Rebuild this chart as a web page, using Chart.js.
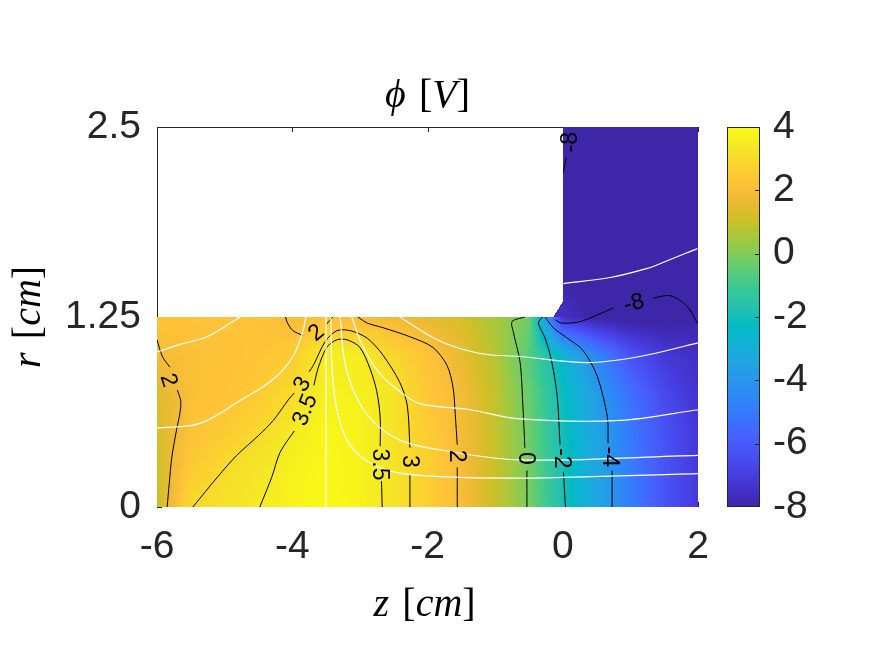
<!DOCTYPE html>
<html>
<head>
<meta charset="utf-8">
<script src="https://cdn.jsdelivr.net/npm/chart.js@4.4.1/dist/chart.umd.min.js"></script>
<style>
  html, body { margin: 0; padding: 0; background: #fff; }
  canvas { display: block; }
</style>
</head>
<body>
<canvas id="phiChart" width="875" height="656"></canvas>
<script>
// grid of phi [V], z columns and r rows in cm
const zCols = [-6, -5.5, -5, -4.5, -4, -3.5, -3, -2.5, -2, -1.5, -1, -0.5, 0, 0.5, 1, 1.5, 2];
const rLower = [0, 0.25, 0.5, 0.75, 1.0, 1.25];
const phiR000 = [1.0, 2.95, 3.2, 3.48, 3.75, 3.95, 3.75, 3.25, 2.65, 1.95, 1.0, -0.1, -1.9, -3.4, -4.9, -6.2, -7.2];
const phiR025 = [1.1, 2.5, 3.0, 3.3, 3.7, 3.9, 3.7, 3.25, 2.65, 1.95, 1.0, -0.15, -1.9, -3.4, -4.9, -6.2, -7.2];
const phiR050 = [1.2, 2.2, 2.5, 2.95, 3.45, 3.85, 3.7, 3.25, 2.6, 1.9, 0.95, -0.25, -2.0, -3.5, -5.0, -6.3, -7.2];
const phiR075 = [1.4, 2.1, 2.25, 2.5, 3.0, 3.7, 3.65, 3.3, 2.4, 1.85, 0.9, -0.35, -2.15, -3.8, -5.3, -6.6, -7.4];
const phiR100 = [1.85, 2.1, 2.2, 2.3, 2.55, 3.6, 3.55, 2.85, 2.3, 1.6, 0.7, -0.6, -2.6, -4.6, -6.3, -7.2, -7.6];
const phiR125 = [2.3, 2.3, 2.3, 2.25, 1.95, 2.1, 1.95, 1.75, 1.55, 1.25, 0.5, -0.2, -7.5, -8.1, -8.3, -8.2, -8.0];

// the region above r = 1.25 only exists for z >= 0
const zUpper = [0, 0.5, 1, 1.5, 2];
const rUpper = [1.25, 1.5, 1.75, 2.0, 2.25, 2.5];
const phiR150 = [-8.0, -8.3, -8.4, -8.4, -8.3];
const phiR175 = [-8.0, -8.4, -8.5, -8.5, -8.4];
const phiR200 = [-8.0, -8.4, -8.5, -8.5, -8.5];
const phiR225 = [-7.95, -8.4, -8.5, -8.5, -8.5];
const phiR250 = [-7.9, -8.4, -8.5, -8.5, -8.5];

const xTicks = [-6, -4, -2, 0, 2];
const yTicks = [0, 1.25, 2.5];
const cbTicks = [-8, -6, -4, -2, 0, 2, 4];

// black contour lines [z, r], NaN = gap for the label
const contour2Left = [[-6.0, 1.10], [-5.92, 0.99], [-5.81, 0.92], [NaN, NaN], [-5.70, 0.77], [-5.65, 0.70], [-5.66, 0.62], [-5.71, 0.51], [-5.78, 0.33], [-5.82, 0.15], [-5.85, 0]];
const contour3 = [[-5.47, 0], [-5.1, 0.2], [-4.82, 0.34], [-4.5, 0.47], [-4.28, 0.57], [-4.05, 0.71], [-3.97, 0.75], [NaN, NaN], [-3.75, 0.89], [-3.69, 0.93], [-3.51, 1.09], [-3.34, 1.16], [-3.14, 1.16], [-2.89, 1.11], [-2.66, 1.0], [-2.41, 0.82], [-2.30, 0.67], [-2.26, 0.39], [NaN, NaN], [-2.26, 0.21], [-2.26, 0]];
const contour35 = [[-4.48, 0], [-4.3, 0.2], [-4.18, 0.36], [-3.97, 0.50], [NaN, NaN], [-3.68, 0.80], [-3.62, 0.91], [-3.49, 1.05], [-3.34, 1.10], [-3.19, 1.10], [-3.0, 1.05], [-2.85, 0.91], [-2.75, 0.76], [-2.70, 0.59], [-2.70, 0.40], [NaN, NaN], [-2.68, 0.17], [-2.67, 0]];
const contour2Top = [[-4.1, 1.25], [-4.07, 1.21], [-3.99, 1.16], [-3.85, 1.13], [NaN, NaN], [-3.5, 1.2], [-3.4, 1.25]];
const contour2Right = [[-3.03, 1.25], [-2.89, 1.21], [-2.66, 1.18], [-2.26, 1.12], [-1.92, 1.05], [-1.71, 0.93], [-1.62, 0.78], [-1.59, 0.61], [-1.56, 0.41], [NaN, NaN], [-1.56, 0.26], [-1.56, 0]];
const contour0 = [[-0.56, 1.25], [-0.75, 1.22], [-0.73, 1.15], [-0.63, 0.95], [-0.59, 0.67], [-0.56, 0.39], [NaN, NaN], [-0.53, 0.24], [-0.53, 0]];
const contourM2 = [[-0.30, 1.25], [-0.36, 1.21], [-0.26, 1.11], [-0.16, 0.95], [-0.08, 0.72], [-0.04, 0.41], [NaN, NaN], [0.01, 0.23], [0.04, 0]];
const contourM4 = [[-0.26, 1.25], [-0.14, 1.18], [0.04, 1.12], [0.30, 1.03], [0.51, 0.86], [0.66, 0.59], [0.67, 0.42], [NaN, NaN], [0.73, 0.24], [0.73, 0]];
const contourM8Low = [[-0.11, 1.23], [-0.01, 1.21], [0.26, 1.22], [0.75, 1.31], [NaN, NaN], [1.34, 1.375], [1.59, 1.39], [1.84, 1.32], [1.99, 1.21]];
const contourM8High = [[0.08, 2.5], [NaN, NaN], [0.05, 2.30], [0.01, 2.20]];

// white lines [z, r]
const white1 = [[-6.0, 1.02], [-5.66, 1.07], [-5.26, 1.12], [-4.77, 1.25]];
const white2 = [[-6.0, 0.52], [-5.36, 0.55], [-4.77, 0.70], [-4.28, 0.84], [-3.99, 0.99], [-3.84, 1.16], [-3.80, 1.25]];
const white3 = [[-3.5, 0], [-3.5, 1.25]];
const white4 = [[-2.41, 1.25], [-1.81, 1.09], [-1.22, 1.01], [-0.63, 0.99], [0.36, 0.95], [1.14, 0.99], [2.0, 1.08]];
const white5 = [[-3.12, 1.25], [-2.97, 1.07], [-2.73, 0.89], [-2.41, 0.76], [-2.11, 0.68], [-1.37, 0.64], [-0.63, 0.58], [0.85, 0.57], [2.0, 0.64]];
const white6 = [[-3.29, 1.25], [-3.23, 0.97], [-3.07, 0.74], [-2.82, 0.57], [-2.41, 0.44], [-1.81, 0.375], [-0.63, 0.31], [2.0, 0.34]];
const white7 = [[-3.43, 1.25], [-3.41, 0.90], [-3.34, 0.64], [-3.19, 0.44], [-2.92, 0.31], [-2.48, 0.23], [-1.81, 0.20], [-0.63, 0.19], [2.0, 0.22]];
const white8 = [[0.01, 1.47], [0.70, 1.51], [1.25, 1.57], [1.49, 1.61], [1.99, 1.70]];

const contourLabels = [
  { text: '2', z: -5.82, r: 0.835, angle: 72 },
  { text: '3', z: -3.86, r: 0.81, angle: -58 },
  { text: '3.5', z: -3.82, r: 0.64, angle: -68 },
  { text: '2', z: -3.65, r: 1.15, angle: -40 },
  { text: '3.5', z: -2.69, r: 0.28, angle: 90 },
  { text: '3', z: -2.26, r: 0.30, angle: 90 },
  { text: '2', z: -1.56, r: 0.335, angle: 90 },
  { text: '0', z: -0.54, r: 0.32, angle: 90 },
  { text: '-2', z: -0.01, r: 0.32, angle: 90 },
  { text: '-4', z: 0.70, r: 0.33, angle: 90 },
  { text: '-8', z: 1.05, r: 1.345, angle: -14 },
  { text: '-8', z: 0.10, r: 2.40, angle: -90 }
];

// MATLAB parula, every third entry of the 64 colour table
const parulaTable = [
  [0.2422, 0.1504, 0.6603], [0.2647, 0.1978, 0.7952], [0.2783, 0.2559, 0.8991], [0.2810, 0.3228, 0.9579],
  [0.2699, 0.3892, 0.9906], [0.2206, 0.4603, 0.9973], [0.1786, 0.5289, 0.9682], [0.1540, 0.5902, 0.9218],
  [0.1248, 0.6459, 0.8883], [0.0689, 0.6948, 0.8394], [0.0067, 0.7312, 0.7660], [0.1408, 0.7584, 0.6842],
  [0.2161, 0.7843, 0.5923], [0.3406, 0.8008, 0.4789], [0.5044, 0.7993, 0.3480], [0.6720, 0.7793, 0.2227],
  [0.8203, 0.7498, 0.1535], [0.9393, 0.7288, 0.2100], [0.9970, 0.7659, 0.2199], [0.9786, 0.8386, 0.1766],
  [0.9597, 0.9135, 0.1423], [0.9769, 0.9839, 0.0805]
];
const cMin = -8, cMax = 4;

function parula(v) {
  let t = (v - cMin) / (cMax - cMin);
  t = Math.min(1, Math.max(0, t)) * (parulaTable.length - 1);
  const i = Math.min(Math.floor(t), parulaTable.length - 2);
  const f = t - i;
  const a = parulaTable[i], b = parulaTable[i + 1];
  return [0, 1, 2].map(k => Math.round(255 * (a[k] + (b[k] - a[k]) * f)));
}

const lowerGrid = [phiR000, phiR025, phiR050, phiR075, phiR100, phiR125];
const upperGrid = [phiR125.slice(zCols.indexOf(0)), phiR150, phiR175, phiR200, phiR225, phiR250];

function findCell(arr, v) {
  let i = 0;
  while (i < arr.length - 2 && v > arr[i + 1]) i++;
  const f = Math.min(1, Math.max(0, (v - arr[i]) / (arr[i + 1] - arr[i])));
  return [i, f];
}

function bilinear(xs, ys, grid, xv, yv) {
  const [i, fx] = findCell(xs, xv);
  const [j, fy] = findCell(ys, yv);
  const a = grid[j][i] * (1 - fx) + grid[j][i + 1] * fx;
  const b = grid[j + 1][i] * (1 - fx) + grid[j + 1][i + 1] * fx;
  return a * (1 - fy) + b * fy;
}

function inDomain(z, r) {
  if (r <= 1.25) return true;
  if (z >= 0) return true;
  if (z >= -0.14) return r <= 1.25 + (z + 0.14) / 0.14 * 0.1;
  return false;
}

function phiAt(z, r) {
  if (r <= 1.25) return bilinear(zCols, rLower, lowerGrid, z, r);
  return bilinear(zUpper, rUpper, upperGrid, Math.max(z, 0), r);
}

const toPoints = pts => pts.map(p => ({ x: p[0], y: p[1] }));

const datasets = [];
[white1, white2, white3, white4, white5, white6, white7, white8].forEach(line => {
  datasets.push({ data: toPoints(line), showLine: true, borderColor: '#ffffff', borderWidth: 1.2, pointRadius: 0, tension: 0.35 });
});
[contour2Left, contour3, contour35, contour2Top, contour2Right, contour0, contourM2, contourM4, contourM8Low, contourM8High].forEach(line => {
  datasets.push({ data: toPoints(line), showLine: true, borderColor: '#000000', borderWidth: 1, pointRadius: 0, tension: 0.3 });
});

const axisColor = '#262626';
const serif = '"Liberation Serif", "Times New Roman", serif';

// draws math-like text: parts are [text, italic]
function drawMath(ctx, parts, size, cx, baseline) {
  const fonts = parts.map(p => (p[1] ? 'italic ' : '') + size + 'px ' + serif);
  const widths = parts.map((p, i) => { ctx.font = fonts[i]; return ctx.measureText(p[0]).width; });
  let x = cx - widths.reduce((s, w) => s + w, 0) / 2;
  ctx.textAlign = 'left';
  ctx.textBaseline = 'alphabetic';
  parts.forEach((p, i) => { ctx.font = fonts[i]; ctx.fillText(p[0], x, baseline); x += widths[i]; });
}

const fieldPlugin = {
  id: 'field',
  beforeDatasetsDraw(chart) {
    const { ctx, chartArea: a, scales: { x, y } } = chart;
    ctx.save();
    // axes box and inward ticks, hidden where the field covers them
    ctx.strokeStyle = axisColor;
    ctx.lineWidth = 1;
    ctx.strokeRect(a.left + 0.5, a.top + 0.5, a.right - a.left - 1, a.bottom - a.top - 1);
    ctx.beginPath();
    xTicks.forEach(v => {
      const px = Math.round(x.getPixelForValue(v)) + 0.5;
      ctx.moveTo(px, a.top); ctx.lineTo(px, a.top + 5);
      ctx.moveTo(px, a.bottom); ctx.lineTo(px, a.bottom - 5);
    });
    yTicks.forEach(v => {
      const py = Math.round(y.getPixelForValue(v)) + 0.5;
      ctx.moveTo(a.left, py); ctx.lineTo(a.left + 5, py);
    });
    ctx.stroke();

    const w = Math.round(a.right - a.left), h = Math.round(a.bottom - a.top);
    const off = document.createElement('canvas');
    off.width = w; off.height = h;
    const octx = off.getContext('2d');
    const img = octx.createImageData(w, h);
    for (let py = 0; py < h; py++) {
      const r = y.getValueForPixel(a.top + py + 0.5);
      for (let px = 0; px < w; px++) {
        const z = x.getValueForPixel(a.left + px + 0.5);
        if (!inDomain(z, r)) continue;
        const c = parula(phiAt(z, r));
        const k = (py * w + px) * 4;
        img.data[k] = c[0]; img.data[k + 1] = c[1]; img.data[k + 2] = c[2]; img.data[k + 3] = 255;
      }
    }
    octx.putImageData(img, 0, 0);
    ctx.drawImage(off, a.left, a.top);
    ctx.restore();
  },
  afterDatasetsDraw(chart) {
    const { ctx, scales: { x, y } } = chart;
    ctx.save();
    ctx.font = '23px "Liberation Sans", Arial, sans-serif';
    ctx.fillStyle = '#000';
    ctx.textAlign = 'center';
    ctx.textBaseline = 'middle';
    contourLabels.forEach(l => {
      ctx.save();
      ctx.translate(x.getPixelForValue(l.z), y.getPixelForValue(l.r));
      ctx.rotate(l.angle * Math.PI / 180);
      ctx.fillText(l.text, 0, 1);
      ctx.restore();
    });
    ctx.restore();
  },
  afterDraw(chart) {
    const { ctx, chartArea: a, scales: { cb } } = chart;
    ctx.save();
    // colorbar
    const cbLeft = 728, cbWidth = 32;
    for (let py = Math.round(a.top); py < Math.round(a.bottom); py++) {
      const c = parula(cb.getValueForPixel(py + 0.5));
      ctx.fillStyle = 'rgb(' + c.join(',') + ')';
      ctx.fillRect(cbLeft, py, cbWidth, 1);
    }
    ctx.strokeStyle = axisColor;
    ctx.lineWidth = 1;
    ctx.strokeRect(cbLeft - 0.5, a.top + 0.5, cbWidth, a.bottom - a.top - 1);
    ctx.beginPath();
    cbTicks.slice(1, -1).forEach(v => {
      const py = Math.round(cb.getPixelForValue(v)) + 0.5;
      ctx.moveTo(cbLeft + cbWidth - 0.5, py); ctx.lineTo(cbLeft + cbWidth - 5, py);
    });
    ctx.stroke();

    // title and axis labels
    ctx.fillStyle = '#000';
    const cx = (a.left + a.right) / 2;
    drawMath(ctx, [['\u03D5', true], ['\u2004', false], ['[', false], ['V', true], [']', false]], 40, cx, 107);
    drawMath(ctx, [['z', true], ['\u2004', false], ['[', false], ['cm', true], [']', false]], 40, cx - 3, 616);
    ctx.save();
    ctx.translate(40, (a.top + a.bottom) / 2);
    ctx.rotate(-Math.PI / 2);
    drawMath(ctx, [['r', true], ['\u2004', false], ['[', false], ['cm', true], [']', false]], 40, 0, 0);
    ctx.restore();
    ctx.restore();
  }
};

const tickFont = { family: '"Liberation Sans", Arial, sans-serif', size: 39 };

new Chart(document.getElementById('phiChart'), {
  type: 'scatter',
  data: { datasets: datasets },
  options: {
    responsive: false,
    animation: false,
    devicePixelRatio: 1,
    layout: { padding: { top: 127, right: 37, bottom: 0, left: 0 } },
    plugins: { legend: { display: false }, tooltip: { enabled: false }, title: { display: false } },
    scales: {
      x: {
        type: 'linear', position: 'bottom', min: -6, max: 2,
        afterBuildTicks: s => { s.ticks = xTicks.map(v => ({ value: v })); },
        afterFit: s => { s.height = 149; },
        grid: { display: false, drawTicks: false },
        border: { display: false },
        ticks: { font: tickFont, color: axisColor, padding: 17, maxRotation: 0, autoSkip: false, callback: v => String(v) }
      },
      y: {
        type: 'linear', position: 'left', min: 0, max: 2.5,
        afterBuildTicks: s => { s.ticks = yTicks.map(v => ({ value: v })); },
        afterFit: s => { s.width = 157; },
        grid: { display: false, drawTicks: false },
        border: { display: false },
        ticks: { font: tickFont, color: axisColor, padding: 16, autoSkip: false, callback: v => String(v) }
      },
      cb: {
        type: 'linear', position: 'right', min: cMin, max: cMax,
        afterBuildTicks: s => { s.ticks = cbTicks.map(v => ({ value: v })); },
        afterFit: s => { s.width = 140; },
        grid: { display: false, drawTicks: false },
        border: { display: false },
        ticks: { font: tickFont, color: axisColor, padding: 75, autoSkip: false, callback: v => String(v) }
      }
    }
  },
  plugins: [fieldPlugin]
});
</script>
</body>
</html>
